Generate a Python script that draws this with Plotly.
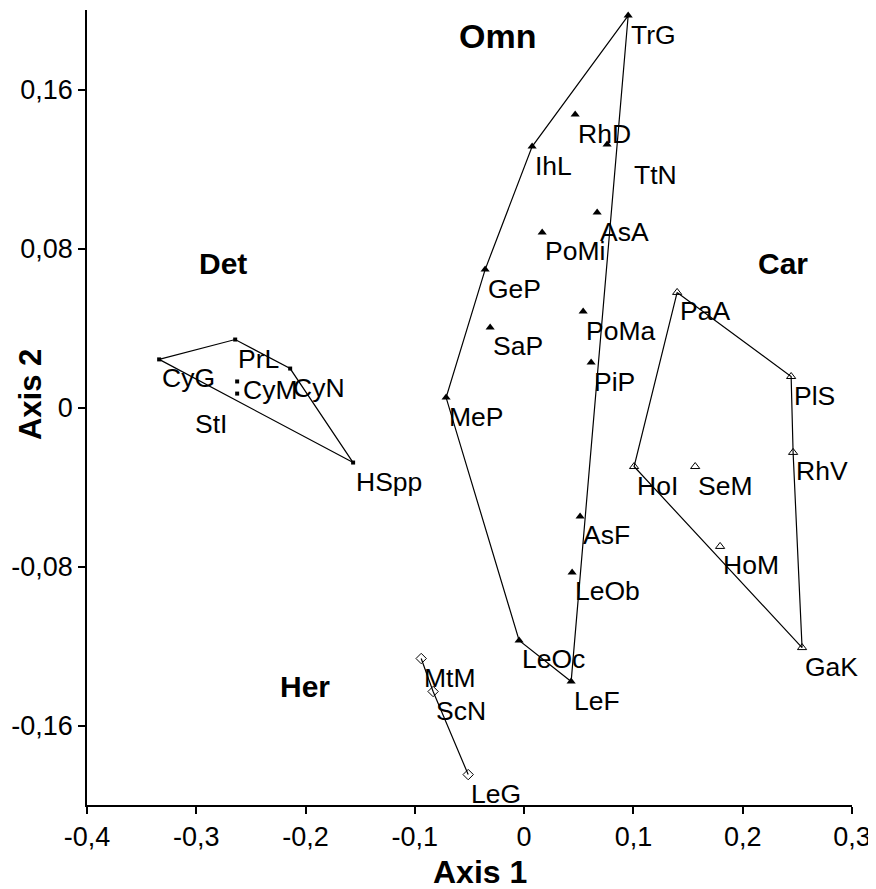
import plotly.graph_objects as go

# ---------------- data ----------------
det_names = ["CyG", "PrL", "CyN", "CyM", "StI", "HSpp"]
det_x = [-0.334, -0.2644, -0.2141, -0.2626, -0.2626, -0.1565]
det_y = [0.0242, 0.0342, 0.0196, 0.0131, 0.0070, -0.0277]
det_hull = ["CyG", "PrL", "CyN", "HSpp", "CyG"]

omn_names = ["TrG", "RhD", "TtN", "IhL", "AsA", "PoMi", "GeP", "PoMa", "SaP",
             "PiP", "MeP", "AsF", "LeOb", "LeOc", "LeF"]
omn_x = [0.0952, 0.0467, 0.0759, 0.0073, 0.0668, 0.0165, -0.0357, 0.054, -0.0311,
         0.0613, -0.0714, 0.0512, 0.0439, -0.0046, 0.043]
omn_y = [0.1972, 0.1474, 0.1323, 0.1313, 0.0981, 0.0881, 0.0694, 0.0483, 0.0403,
         0.0226, 0.005, -0.0548, -0.083, -0.1172, -0.1379]
omn_hull = ["TrG", "IhL", "GeP", "MeP", "LeOc", "LeF", "TrG"]

car_names = ["PaA", "PlS", "RhV", "HoI", "SeM", "HoM", "GaK"]
car_x = [0.14, 0.2443, 0.2461, 0.1006, 0.1565, 0.1793, 0.2543]
car_y = [0.0579, 0.0156, -0.0226, -0.0297, -0.0297, -0.0699, -0.1208]
car_hull = ["PaA", "PlS", "RhV", "GaK", "HoI", "PaA"]

her_names = ["MtM", "ScN", "LeG"]
her_x = [-0.0942, -0.0833, -0.0512]
her_y = [-0.1263, -0.1429, -0.1847]
her_hull = ["MtM", "ScN", "LeG"]

group_names = ["Omn", "Det", "Car", "Her"]
group_x = [-0.0247, -0.2754, 0.237, -0.2004]
group_y = [0.1867, 0.0725, 0.0725, -0.1404]

x_ticks = [-0.4, -0.3, -0.2, -0.1, 0, 0.1, 0.2, 0.3]
x_ticktext = ["-0,4", "-0,3", "-0,2", "-0,1", "0", "0,1", "0,2", "0,3"]
y_ticks = [-0.16, -0.08, 0, 0.08, 0.16]
y_ticktext = ["-0,16", "-0,08", "0", "0,08", "0,16"]

# label pixel offsets (exceptions from default bottom-right placement)
label_shift = {"TtN": (25, -13), "StI": (-44, -13), "CyM": (4, 8)}

FONT = "Arial, Liberation Sans, sans-serif"

fig = go.Figure()

groups = [
    (det_names, det_x, det_y, det_hull, dict(symbol="square", size=4, color="black")),
    (omn_names, omn_x, omn_y, omn_hull, dict(symbol="triangle-up", size=8, color="black")),
    (car_names, car_x, car_y, car_hull,
     dict(symbol="triangle-up-open", size=8, color="black", line=dict(width=1, color="black"))),
    (her_names, her_x, her_y, her_hull,
     dict(symbol="diamond-open", size=8, color="black", line=dict(width=1, color="black"))),
]

annotations = []
for names, xs, ys, hull, marker in groups:
    idx = {n: i for i, n in enumerate(names)}
    fig.add_trace(go.Scatter(
        x=[xs[idx[n]] for n in hull], y=[ys[idx[n]] for n in hull],
        mode="lines", line=dict(color="black", width=1.2), hoverinfo="skip",
        showlegend=False))
    fig.add_trace(go.Scatter(
        x=xs, y=ys, mode="markers", marker=marker, text=names,
        showlegend=False, cliponaxis=False))
    for n, xv, yv in zip(names, xs, ys):
        dx, dy = label_shift.get(n, (1, -2))
        annotations.append(dict(
            x=xv, y=yv, xref="x", yref="y", text=n, showarrow=False,
            xanchor="left", yanchor="top", xshift=dx, yshift=dy,
            font=dict(family=FONT, size=26.5, color="black")))

for g, gx, gy in zip(group_names, group_x, group_y):
    annotations.append(dict(
        x=gx, y=gy, xref="x", yref="y", text="<b>%s</b>" % g, showarrow=False,
        xanchor="center", yanchor="middle",
        font=dict(family=FONT, size=34 if g == "Omn" else 30, color="black")))

annotations.append(dict(
    x=0.5137, y=-0.084, xref="paper", yref="paper", text="<b>Axis 1</b>",
    showarrow=False, xanchor="center", yanchor="middle",
    font=dict(family=FONT, size=32, color="black")))
annotations.append(dict(
    x=-0.0745, y=0.5157, xref="paper", yref="paper", text="<b>Axis 2</b>",
    showarrow=False, xanchor="center", yanchor="middle", textangle=-90,
    font=dict(family=FONT, size=31, color="black")))

# page body adds an 8px offset; compensate so the plot area sits where the reference has it
fig.update_layout(
    width=868, height=881,
    margin=dict(l=79, r=24, t=2, b=84),
    paper_bgcolor="white", plot_bgcolor="white",
    annotations=annotations,
    font=dict(family=FONT, size=27, color="black"),
    xaxis=dict(range=[-0.4, 0.3], tickvals=x_ticks, ticktext=x_ticktext,
               showgrid=False, zeroline=False, showline=True,
               linecolor="black", linewidth=1.5, ticks="outside", ticklen=7,
               tickwidth=1.5, tickcolor="black",
               tickfont=dict(family=FONT, size=27, color="black")),
    yaxis=dict(range=[-0.2, 0.2], tickvals=y_ticks, ticktext=y_ticktext,
               showgrid=False, zeroline=False, showline=True,
               linecolor="black", linewidth=1.5, ticks="outside", ticklen=7,
               tickwidth=1.5, tickcolor="black",
               tickfont=dict(family=FONT, size=27, color="black")),
)

fig.write_html("out.html")
